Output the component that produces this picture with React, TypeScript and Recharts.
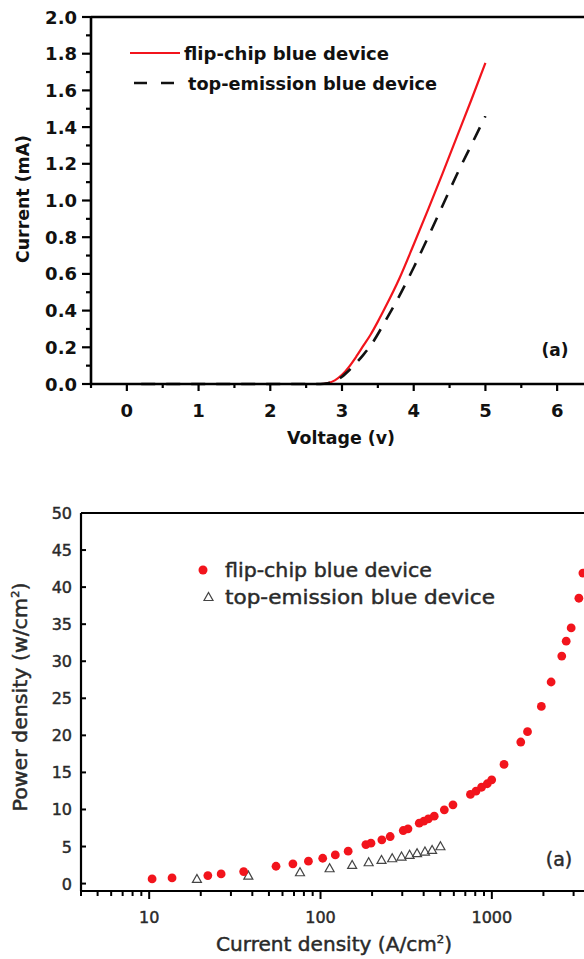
import {
  LineChart,
  Line,
  ScatterChart,
  Scatter,
  XAxis,
  YAxis,
  ReferenceLine,
} from "recharts";

// (a) top: I-V curves
const flipVoltage = [0.2, 2.7, 2.8, 2.9, 3.0, 3.1, 3.2, 3.3, 3.4, 3.5, 3.6, 3.8, 4.0, 4.2, 4.4, 4.6, 4.8, 5.0];
const flipCurrent = [0, 0, 0.005, 0.02, 0.05, 0.095, 0.15, 0.21, 0.27, 0.34, 0.415, 0.575, 0.76, 0.95, 1.145, 1.345, 1.545, 1.75];
const topVoltage = [0.2, 2.7, 2.8, 2.9, 3.0, 3.1, 3.2, 3.3, 3.4, 3.6, 3.8, 4.0, 4.2, 4.4, 4.6, 4.8, 5.0];
const topCurrent = [0, 0, 0.004, 0.015, 0.04, 0.075, 0.115, 0.16, 0.21, 0.34, 0.48, 0.635, 0.8, 0.97, 1.14, 1.3, 1.46];

const voltageTicks = [-0.5, 0, 0.5, 1, 1.5, 2, 2.5, 3, 3.5, 4, 4.5, 5, 5.5, 6, 6.5];
const currentTicks = [0, 0.1, 0.2, 0.3, 0.4, 0.5, 0.6, 0.7, 0.8, 0.9, 1.0, 1.1, 1.2, 1.3, 1.4, 1.5, 1.6, 1.7, 1.8, 1.9, 2.0];

// (a) bottom: power density vs current density
const flipDensity = [10.4, 13.6, 22, 26.3, 35.6, 55, 69, 85, 103, 122, 145, 184, 197, 228, 255, 304, 324, 377, 401, 426, 461, 528, 593, 750, 808, 871, 940, 998, 1178, 1475, 1615, 1945, 2218, 2559, 2716, 2904, 3221, 3399];
const flipPower = [0.63, 0.77, 1.08, 1.3, 1.62, 2.34, 2.66, 3.02, 3.42, 3.87, 4.37, 5.27, 5.45, 5.9, 6.35, 7.16, 7.39, 8.15, 8.42, 8.74, 9.1, 9.95, 10.63, 12.03, 12.47, 13.0, 13.47, 14.0, 16.08, 19.1, 20.5, 23.9, 27.2, 30.7, 32.7, 34.5, 38.5, 41.9];
const topDensity = [19, 37.9, 75.9, 113, 153, 191, 227, 262, 297, 331, 366, 407, 448, 501];
const topPower = [0.63, 1.08, 1.53, 2.07, 2.52, 2.88, 3.2, 3.42, 3.65, 3.88, 4.1, 4.32, 4.55, 5.04];

const densityTicks = [4, 5, 6, 7, 8, 9, 10, 20, 30, 40, 50, 60, 70, 80, 90, 100, 200, 300, 400, 500, 600, 700, 800, 900, 1000, 2000, 3000, 4000];
const densityLabels = [10, 100, 1000];
const powerTicks = [0, 5, 10, 15, 20, 25, 30, 35, 40, 45, 50];

const flipIV = flipVoltage.map((v, k) => ({ v, i: flipCurrent[k] }));
const topIV = topVoltage.map((v, k) => ({ v, i: topCurrent[k] }));
const flipPD = flipDensity.map((j, k) => ({ j, p: flipPower[k] }));
const topPD = topDensity.map((j, k) => ({ j, p: topPower[k] }));

const FONT = "'DejaVu Sans', sans-serif";
const RED = "#f2141c";
// lower panel text is a heavier grey, thickened with a thin stroke
const GREY = { fill: "#2a2a2a", stroke: "#2a2a2a", strokeWidth: 0.45 };

function VoltTick({ x, y, payload }: any) {
  const v = payload.value;
  const major = Number.isInteger(v);
  return (
    <g>
      <line x1={x} x2={x} y1={y} y2={y + (major ? 7 : 4)} stroke="#000" strokeWidth={2.2} />
      {major && (
        <text x={x} y={y + 33} textAnchor="middle" fontFamily={FONT} fontWeight="bold" fontSize={18} fill="#111">
          {v}
        </text>
      )}
    </g>
  );
}

function CurrentTick({ x, y, payload }: any) {
  const v = payload.value;
  const major = Math.round(v * 10) % 2 === 0;
  return (
    <g>
      <line x1={x} x2={x - (major ? 9 : 5)} y1={y} y2={y} stroke="#000" strokeWidth={2.2} />
      {major && (
        <text x={x - 14} y={y + 6.5} textAnchor="end" fontFamily={FONT} fontWeight="bold" fontSize={18} fill="#111">
          {v.toFixed(1)}
        </text>
      )}
    </g>
  );
}

function DensityTick({ x, y, payload }: any) {
  const v = payload.value;
  const major = densityLabels.includes(v);
  return (
    <g>
      <line x1={x} x2={x} y1={y} y2={y + (major ? 8 : 5)} stroke="#000" strokeWidth={2} />
      {major && (
        <text x={x} y={y + 32} textAnchor="middle" fontFamily={FONT} fontSize={16} {...GREY}>
          {v}
        </text>
      )}
    </g>
  );
}

function PowerTick({ x, y, payload }: any) {
  const v = payload.value;
  return (
    <g>
      <line x1={x} x2={x + 5} y1={y} y2={y} stroke="#000" strokeWidth={2} />
      <text x={x - 9} y={y + 6} textAnchor="end" fontFamily={FONT} fontSize={16} {...GREY}>
        {v}
      </text>
    </g>
  );
}

const Dot = (props: any) => <circle cx={props.cx} cy={props.cy} r={4.4} fill={RED} />;
const Tri = (props: any) => {
  const { cx, cy } = props;
  return (
    <polygon
      points={`${cx - 4.5},${cy + 3.5} ${cx + 4.5},${cy + 3.5} ${cx},${cy - 4.5}`}
      fill="none"
      stroke="#444"
      strokeWidth={1.2}
    />
  );
};

function Overlay() {
  return (
    <svg width={584} height={959} style={{ position: "absolute", left: 0, top: 0, pointerEvents: "none" }}>
      {/* top chart legend */}
      <line x1={130} x2={180} y1={53} y2={53} stroke={RED} strokeWidth={2} />
      <text x={184} y={59.5} fontFamily={FONT} fontWeight="bold" fontSize={18} fill="#111" textLength={205} lengthAdjust="spacingAndGlyphs">
        flip-chip blue device
      </text>
      <line x1={134} x2={174} y1={83} y2={83} stroke="#111" strokeWidth={2.6} strokeDasharray="13 14" />
      <text x={188} y={89.5} fontFamily={FONT} fontWeight="bold" fontSize={18} fill="#111" textLength={249} lengthAdjust="spacingAndGlyphs">
        top-emission blue device
      </text>
      <text x={555} y={356} textAnchor="middle" fontFamily={FONT} fontWeight="bold" fontSize={17} fill="#111">
        (a)
      </text>
      <text x={341} y={444} textAnchor="middle" fontFamily={FONT} fontWeight="bold" fontSize={17} fill="#111" textLength={108} lengthAdjust="spacingAndGlyphs">
        Voltage (v)
      </text>
      <text transform="translate(29,199) rotate(-90)" textAnchor="middle" fontFamily={FONT} fontWeight="bold" fontSize={17} fill="#111" textLength={128} lengthAdjust="spacingAndGlyphs">
        Current (mA)
      </text>

      {/* bottom chart legend */}
      <circle cx={203} cy={570} r={4.5} fill={RED} />
      <text x={225} y={576.5} fontFamily={FONT} fontSize={19} {...GREY} textLength={207} lengthAdjust="spacingAndGlyphs">
        flip-chip blue device
      </text>
      <polygon points="204,600.5 213,600.5 208.5,592.5" fill="none" stroke="#444" strokeWidth={1.2} />
      <text x={225} y={603.5} fontFamily={FONT} fontSize={19} {...GREY} textLength={270} lengthAdjust="spacingAndGlyphs">
        top-emission blue device
      </text>
      <text x={559} y={866} textAnchor="middle" fontFamily={FONT} fontSize={19} {...GREY}>
        (a)
      </text>
      <text x={334} y={951} textAnchor="middle" fontFamily={FONT} fontSize={19} {...GREY} textLength={236} lengthAdjust="spacingAndGlyphs">
        Current density (A/cm<tspan fontSize={11} dy={-8}>2</tspan><tspan dy={8}>)</tspan>
      </text>
      <text transform="translate(27,697) rotate(-90)" textAnchor="middle" fontFamily={FONT} fontSize={19} {...GREY} textLength={229} lengthAdjust="spacingAndGlyphs">
        Power density (w/cm<tspan fontSize={11} dy={-8}>2</tspan><tspan dy={8}>)</tspan>
      </text>
    </svg>
  );
}

export default function App() {
  return (
    <div
      style={{
        position: "absolute",
        left: 0,
        top: 0,
        width: 584,
        height: 959,
        overflow: "hidden",
        background: "#fff",
      }}
    >
      <div style={{ position: "absolute", left: 0, top: 0 }}>
        <LineChart width={600} height={480} margin={{ top: 17, right: 7, bottom: 36, left: 0 }}>
          <XAxis
            type="number"
            dataKey="v"
            domain={[-0.5, 6.5]}
            ticks={voltageTicks}
            interval={0}
            height={60}
            tickSize={0}
            tickMargin={0}
            tick={<VoltTick />}
            axisLine={{ stroke: "#000", strokeWidth: 2.6 }}
          />
          <YAxis
            type="number"
            domain={[0, 2]}
            ticks={currentTicks}
            interval={0}
            width={91}
            tickSize={0}
            tickMargin={0}
            tick={<CurrentTick />}
            axisLine={{ stroke: "#000", strokeWidth: 2.6 }}
          />
          <ReferenceLine y={2} stroke="#000" strokeWidth={2.6} />
          <Line
            data={flipIV}
            dataKey="i"
            type="monotone"
            stroke={RED}
            strokeWidth={2.2}
            dot={false}
            isAnimationActive={false}
          />
          <Line
            data={topIV}
            dataKey="i"
            type="monotone"
            stroke="#111"
            strokeWidth={2.6}
            strokeDasharray="14 11"
            dot={false}
            isAnimationActive={false}
          />
        </LineChart>
      </div>

      <div style={{ position: "absolute", left: 0, top: 490 }}>
        <ScatterChart width={600} height={469} margin={{ top: 23, right: 5, bottom: 8, left: 0 }}>
          <XAxis
            type="number"
            dataKey="j"
            scale="log"
            domain={[4, 4000]}
            ticks={densityTicks}
            interval={0}
            height={60}
            tickSize={0}
            tickMargin={0}
            tick={<DensityTick />}
            axisLine={{ stroke: "#000", strokeWidth: 2.2 }}
            allowDataOverflow
          />
          <YAxis
            type="number"
            dataKey="p"
            domain={[-1, 50]}
            ticks={powerTicks}
            interval={0}
            width={81}
            tickSize={0}
            tickMargin={0}
            tick={<PowerTick />}
            axisLine={{ stroke: "#000", strokeWidth: 2.2 }}
            allowDataOverflow
          />
          <ReferenceLine y={50} stroke="#000" strokeWidth={2.2} />
          <Scatter data={topPD} shape={Tri} isAnimationActive={false} />
          <Scatter data={flipPD} shape={Dot} isAnimationActive={false} />
        </ScatterChart>
      </div>

      <Overlay />
    </div>
  );
}
